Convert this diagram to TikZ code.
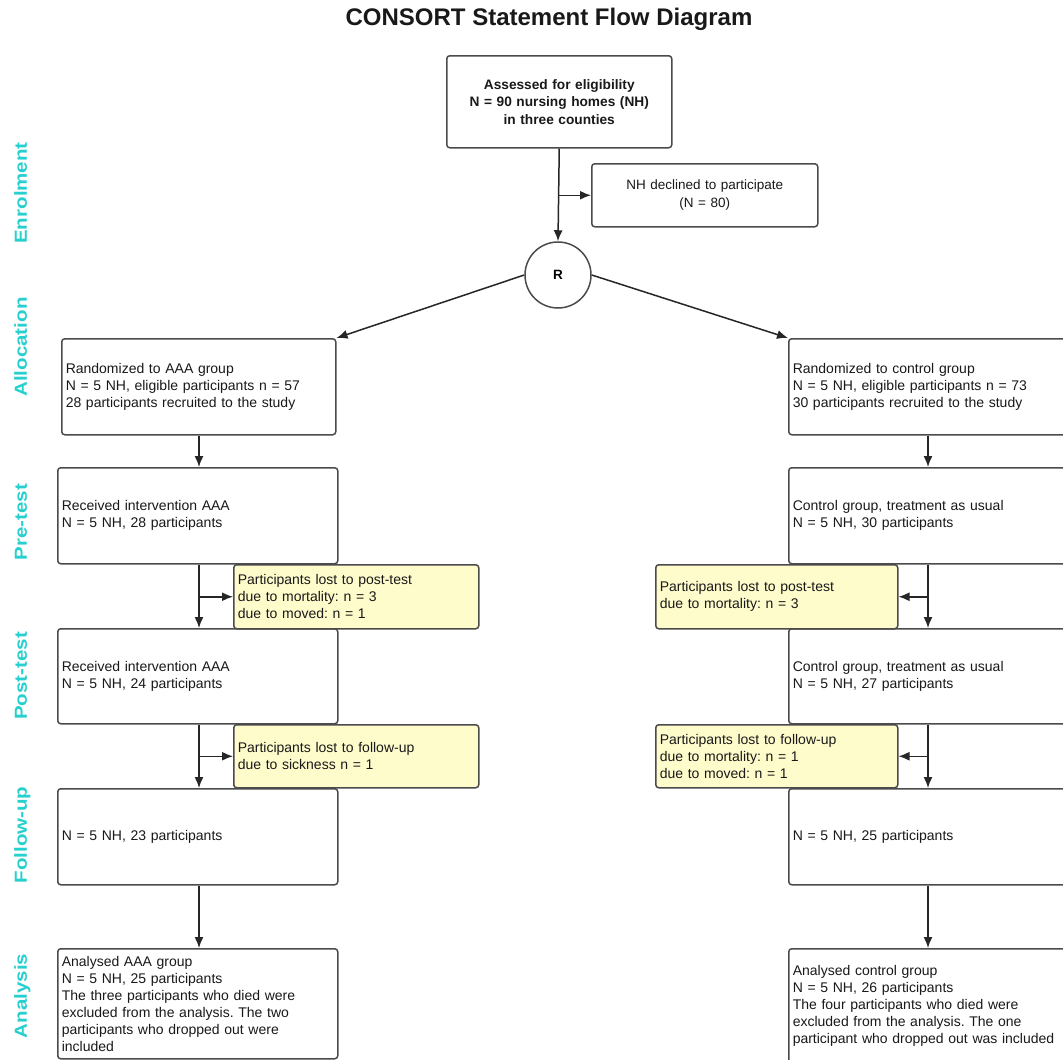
\documentclass[tikz,border=0pt]{standalone}
\usepackage{fontspec}
\setmainfont{Liberation Sans}
\usetikzlibrary{arrows.meta}
\definecolor{labc}{RGB}{38,208,206}
\definecolor{yel}{RGB}{255,252,204}
\definecolor{edgec}{RGB}{75,75,75}
\frenchspacing
\begin{document}
\begin{tikzpicture}[x=1pt,y=-1pt,
  box/.style={draw=edgec, line width=1.5pt, rounded corners=3pt, fill=white,
    inner xsep=4pt, inner ysep=2pt, font=\fontsize{14}{17}\selectfont,
    align=left, anchor=north west, text=black!90},
  ybox/.style={box, fill=yel},
  cbox/.style={box, align=center},
  arr/.style={draw=black!85, line width=1.5pt, -{Latex[length=11pt,width=9pt]}},
  phase/.style={text=labc, font=\fontsize{20.5}{24}\bfseries\selectfont, rotate=90, anchor=base}
]
\useasboundingbox (0,0) rectangle (1063,1060);
\clip (0,0) rectangle (1063,1060);
\fill[white] (0,0) rectangle (1063,1060);

% title
\node[font=\fontsize{24}{28}\bfseries\selectfont, text=black!90] (title) at (549,19) {CONSORT Statement Flow Diagram};

% phase labels
\node[phase] (pEnr) at (27,193) {\scalebox{1}[0.85]{Enrolment}};
\node[phase] (pAll) at (27,347) {\scalebox{1}[0.85]{Allocation}};
\node[phase] (pPre) at (27,522) {\scalebox{1}[0.85]{Pre-test}};
\node[phase] (pPost) at (27,676) {\scalebox{1}[0.85]{Post-test}};
\node[phase] (pFU) at (27,835) {\scalebox{1}[0.85]{Follow-up}};
\node[phase] (pAna) at (27,996) {\scalebox{1}[0.85]{Analysis}};

% enrolment
\node[cbox, font=\fontsize{13.7}{17.5}\bfseries\selectfont, text width=217pt, minimum height=92pt] (top) at (446,55)
  {Assessed for eligibility\\N = 90 nursing homes (NH)\\in three counties};
\node[cbox, font=\fontsize{13.5}{17.5}\selectfont, text width=218pt, minimum height=63pt] (dec) at (591,163)
  {NH declined to participate\\(N = 80)};
\node[draw=edgec, line width=1.5pt, circle, minimum size=66pt, fill=white, inner sep=0pt,
  font=\fontsize{13.5}{16}\bfseries\selectfont] (R) at (558,275) {R};

% left column
\node[box, text width=266pt, minimum height=96pt] (lAlloc) at (61,338)
  {Randomized to AAA group\\N = 5 NH, eligible participants n = 57\\28 participants recruited to the study};
\node[box, text width=272pt, minimum height=96pt] (lPre) at (57,467)
  {Received intervention AAA\\N = 5 NH, 28 participants};
\node[box, text width=272pt, minimum height=95pt] (lPost) at (57,628)
  {Received intervention AAA\\N = 5 NH, 24 participants};
\node[box, text width=272pt, minimum height=96pt] (lFU) at (57,788)
  {N = 5 NH, 23 participants};
\node[box, text width=272pt, minimum height=110pt] (lAna) at (57,948)
  {Analysed AAA group\\N = 5 NH, 25 participants\\The three participants who died were\\excluded from the analysis. The two\\participants who dropped out were\\included};

% right column
\node[box, text width=272pt, minimum height=96pt] (rAlloc) at (788,338)
  {Randomized to control group\\N = 5 NH, eligible participants n = 73\\30 participants recruited to the study};
\node[box, text width=272pt, minimum height=96pt] (rPre) at (788,467)
  {Control group, treatment as usual\\N = 5 NH, 30 participants};
\node[box, text width=272pt, minimum height=95pt] (rPost) at (788,628)
  {Control group, treatment as usual\\N = 5 NH, 27 participants};
\node[box, text width=272pt, minimum height=96pt] (rFU) at (788,788)
  {N = 5 NH, 25 participants};
\node[box, text width=272pt, minimum height=114pt] (rAna) at (788,948)
  {Analysed control group\\N = 5 NH, 26 participants\\The four participants who died were\\excluded from the analysis. The one\\participant who dropped out was included};

% yellow boxes
\node[ybox, text width=237pt, minimum height=64pt] (yL1) at (233,564)
  {Participants lost to post-test\\due to mortality: n = 3\\due to moved: n = 1};
\node[ybox, text width=237pt, minimum height=63pt] (yL2) at (233,724)
  {Participants lost to follow-up\\due to sickness n = 1};
\node[ybox, text width=234pt, minimum height=64pt] (yR1) at (655,564)
  {Participants lost to post-test\\due to mortality: n = 3};
\node[ybox, text width=234pt, minimum height=63pt] (yR2) at (655,724)
  {Participants lost to follow-up\\due to mortality: n = 1\\due to moved: n = 1};

% connectors
\coordinate (cL) at (199,0);
\coordinate (cR) at (928,0);
\draw[arr] (top.south) -- (R.north);
\draw[arr] (top.south |- dec.west) -- (dec.west);
\draw[arr] (R.west) -- (lAlloc.north east);
\draw[arr] (R.east) -- (rAlloc.north west);

\draw[arr] (lAlloc.south -| cL) -- (lPre.north -| cL);
\draw[arr] (lPre.south -| cL) -- (lPost.north -| cL);
\draw[arr] (cL |- yL1.west) -- (yL1.west);
\draw[arr] (lPost.south -| cL) -- (lFU.north -| cL);
\draw[arr] (cL |- yL2.west) -- (yL2.west);
\draw[arr] (lFU.south -| cL) -- (lAna.north -| cL);

\draw[arr] (rAlloc.south -| cR) -- (rPre.north -| cR);
\draw[arr] (rPre.south -| cR) -- (rPost.north -| cR);
\draw[arr] (cR |- yR1.east) -- (yR1.east);
\draw[arr] (rPost.south -| cR) -- (rFU.north -| cR);
\draw[arr] (cR |- yR2.east) -- (yR2.east);
\draw[arr] (rFU.south -| cR) -- (rAna.north -| cR);
\end{tikzpicture}
\end{document}
